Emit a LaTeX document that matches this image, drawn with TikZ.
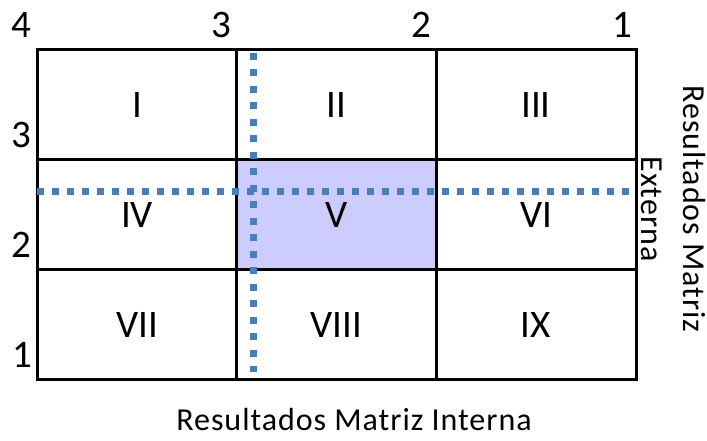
\documentclass[tikz,border=0pt]{standalone}
\usepackage{fontspec}
\setmainfont{Carlito}
\definecolor{cellfill}{RGB}{204,204,255}
\definecolor{spot}{RGB}{74,126,187}
\tikzset{
  every node/.style={
    text=black,
    font=\fontsize{39}{42}\selectfont
  },
  cell/.style={draw, line width=3pt, minimum width=200pt,
    minimum height=110pt, inner sep=0pt},
  title/.style={inner sep=0pt,
    font=\fontsize{32}{42}\selectfont\addfontfeature{LetterSpace=3}},
  guide/.style={spot, line width=7pt}
}

\begin{document}
\begin{tikzpicture}[x=1pt,y=1pt]
    \useasboundingbox (0,0) rectangle (707,441);

    % the nine cells
    \foreach \lbl/\shade [count=\k from 0] in {I/white,II/white,III/white,IV/white,V/cellfill,VI/white,VII/white,VIII/white,IX/white}{
      \pgfmathtruncatemacro{\col}{mod(\k,3)}
      \pgfmathtruncatemacro{\row}{div(\k,3)}
      \node[cell, fill=\shade] (c\lbl) at (137+199.5*\col, 336-110*\row) {\lbl};
    }

    % dotted guides
    \coordinate (vtop) at (253,388);
    \coordinate (vbot) at (253,69);
    \coordinate (hleft) at (37,249);
    \coordinate (hright) at (636,249);
    \draw [guide, dash pattern=on 7pt off 9.5pt] (vtop) -- (vbot);
    \draw [guide, dash pattern=on 7pt off 8pt] (hleft) -- (hright);

    % scale numbers
    \node[anchor=base] (t4) at (21,403) {4};
    \node[anchor=base] (t3) at (221,403) {3};
    \node[anchor=base] (t2) at (421,403) {2};
    \node[anchor=base] (t1) at (622,403) {1};
    \node[anchor=base] (l3) at (21,293) {3};
    \node[anchor=base] (l2) at (21,183) {2};
    \node[anchor=base] (l1) at (22,73) {1};

    % axis titles
    \node[title, anchor=base] (xlabel) at (354,10) {Resultados Matriz Interna};
    \node[title, rotate=-90, align=center] (ylabel) at (673,232) {Resultados Matriz\\Externa};
\end{tikzpicture}
\end{document}
